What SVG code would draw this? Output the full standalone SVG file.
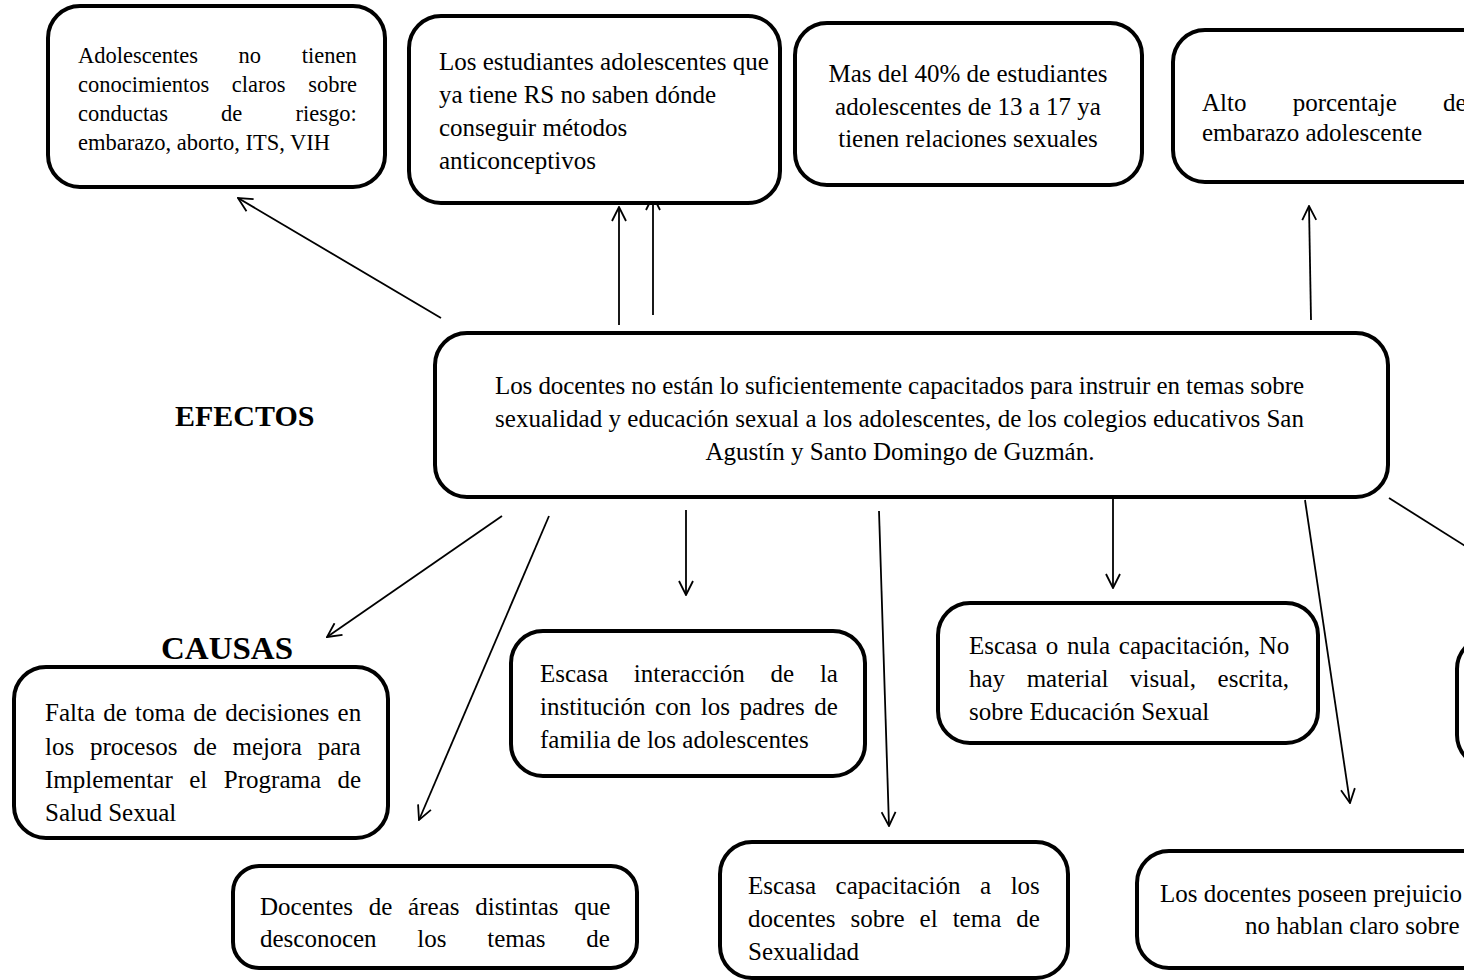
<svg xmlns="http://www.w3.org/2000/svg" width="1464" height="980" viewBox="0 0 1464 980">
<style>
.box{fill:#fff;stroke:#000;stroke-width:4}
.t{font-family:"Liberation Serif","Times New Roman",serif;font-size:25px;fill:#000}
.s{font-size:22.5px}
.h{font-family:"Liberation Serif","Times New Roman",serif;font-size:30px;font-weight:bold;fill:#000}
.c{text-anchor:middle}
.ln{stroke:#000;stroke-width:1.8;fill:none}
</style>
<defs>
<marker id="arr" viewBox="0 0 16 16" refX="15" refY="8" markerWidth="16" markerHeight="16" orient="auto" markerUnits="userSpaceOnUse">
<path d="M1,1 L15,8 L1,15" fill="none" stroke="#000" stroke-width="1.8"/>
</marker>
</defs>
<rect width="1464" height="980" fill="#fff"/>

<g id="connectors">
<line class="ln" x1="441" y1="318" x2="238" y2="198" marker-end="url(#arr)"/>
<line class="ln" x1="619" y1="325" x2="619" y2="207" marker-end="url(#arr)"/>
<line class="ln" x1="653" y1="315" x2="653" y2="196" marker-end="url(#arr)"/>
<line class="ln" x1="1311" y1="320" x2="1309" y2="206" marker-end="url(#arr)"/>
<line class="ln" x1="502" y1="516" x2="327" y2="637" marker-end="url(#arr)"/>
<line class="ln" x1="549" y1="516" x2="419" y2="820" marker-end="url(#arr)"/>
<line class="ln" x1="686" y1="510" x2="686" y2="595" marker-end="url(#arr)"/>
<line class="ln" x1="879" y1="511" x2="889" y2="826" marker-end="url(#arr)"/>
<line class="ln" x1="1113" y1="498" x2="1113" y2="588" marker-end="url(#arr)"/>
<line class="ln" x1="1305" y1="500" x2="1350" y2="803" marker-end="url(#arr)"/>
<line class="ln" x1="1389" y1="498" x2="1470" y2="549"/>
</g>

<g id="efecto1">
<rect class="box" x="48" y="6" width="337" height="181" rx="32"/>
<text class="t s" x="78" y="63" style="word-spacing:35px">Adolescentes no tienen</text>
<text class="t s" x="78" y="92" style="word-spacing:17px">conocimientos claros sobre</text>
<text class="t s" x="78" y="121" style="word-spacing:47.5px">conductas de riesgo:</text>
<text class="t s" x="78" y="150">embarazo, aborto, ITS, VIH</text>
</g>

<g id="efecto2">
<rect class="box" x="409" y="16" width="371" height="187" rx="32"/>
<text class="t" x="439" y="70">Los estudiantes adolescentes que</text>
<text class="t" x="439" y="103">ya tiene RS no saben dónde</text>
<text class="t" x="439" y="136">conseguir métodos</text>
<text class="t" x="439" y="169">anticonceptivos</text>
</g>

<g id="efecto3">
<rect class="box" x="795" y="23" width="347" height="162" rx="32"/>
<text class="t c" x="968" y="82">Mas del 40% de estudiantes</text>
<text class="t c" x="968" y="115">adolescentes de 13 a 17 ya</text>
<text class="t c" x="968" y="147">tienen relaciones sexuales</text>
</g>

<g id="efecto4">
<rect class="box" x="1173" y="30" width="340" height="152" rx="32"/>
<text class="t" x="1202" y="111" style="word-spacing:40px">Alto porcentaje de</text>
<text class="t" x="1202" y="141">embarazo adolescente</text>
</g>

<g id="efectos-label">
<text class="h" x="175" y="426">EFECTOS</text>
</g>

<g id="problema">
<rect class="box" x="435" y="333" width="953" height="164" rx="32"/>
<text class="t" x="495" y="394" textLength="809" lengthAdjust="spacing">Los docentes no están lo suficientemente capacitados para instruir en temas sobre</text>
<text class="t" x="495" y="427" textLength="809" lengthAdjust="spacing">sexualidad y educación sexual a los adolescentes, de los colegios educativos San</text>
<text class="t c" x="900" y="460">Agustín y Santo Domingo de Guzmán.</text>
</g>

<g id="causas-label">
<text class="h" x="161" y="659" style="font-size:31px" textLength="132" lengthAdjust="spacingAndGlyphs">CAUSAS</text>
</g>

<g id="causa1">
<rect class="box" x="14" y="667" width="374" height="171" rx="32"/>
<text class="t" x="45" y="721" style="word-spacing:2px">Falta de toma de decisiones en</text>
<text class="t" x="45" y="755" style="word-spacing:9.5px">los procesos de mejora para</text>
<text class="t" x="45" y="788" style="word-spacing:10.3px">Implementar el Programa de</text>
<text class="t" x="45" y="821">Salud Sexual</text>
</g>

<g id="causa2">
<rect class="box" x="511" y="631" width="354" height="145" rx="32"/>
<text class="t" x="540" y="682" style="word-spacing:19.5px">Escasa interacción de la</text>
<text class="t" x="540" y="715" style="word-spacing:3.3px">institución con los padres de</text>
<text class="t" x="540" y="748">familia de los adolescentes</text>
</g>

<g id="causa3">
<rect class="box" x="938" y="603" width="380" height="140" rx="32"/>
<text class="t" x="969" y="654" style="word-spacing:2.5px">Escasa o nula capacitación, No</text>
<text class="t" x="969" y="687" style="word-spacing:15.3px">hay material visual, escrita,</text>
<text class="t" x="969" y="720">sobre Educación Sexual</text>
</g>

<g id="causa4">
<rect class="box" x="1457" y="637" width="200" height="130" rx="32"/>
</g>

<g id="causa5">
<rect class="box" x="233" y="866" width="404" height="102" rx="26"/>
<text class="t" x="260" y="915" style="word-spacing:9.5px">Docentes de áreas distintas que</text>
<text class="t" x="260" y="947" style="word-spacing:34.5px">desconocen los temas de</text>
</g>

<g id="causa6">
<rect class="box" x="720" y="842" width="348" height="136" rx="32"/>
<text class="t" x="748" y="894" style="word-spacing:13.3px">Escasa capacitación a los</text>
<text class="t" x="748" y="927" style="word-spacing:8.75px">docentes sobre el tema de</text>
<text class="t" x="748" y="960">Sexualidad</text>
</g>

<g id="causa7">
<rect class="box" x="1137" y="851" width="400" height="117" rx="32"/>
<text class="t" x="1160" y="902">Los docentes poseen prejuicio</text>
<text class="t" x="1245" y="934">no hablan claro sobre</text>
</g>
</svg>
